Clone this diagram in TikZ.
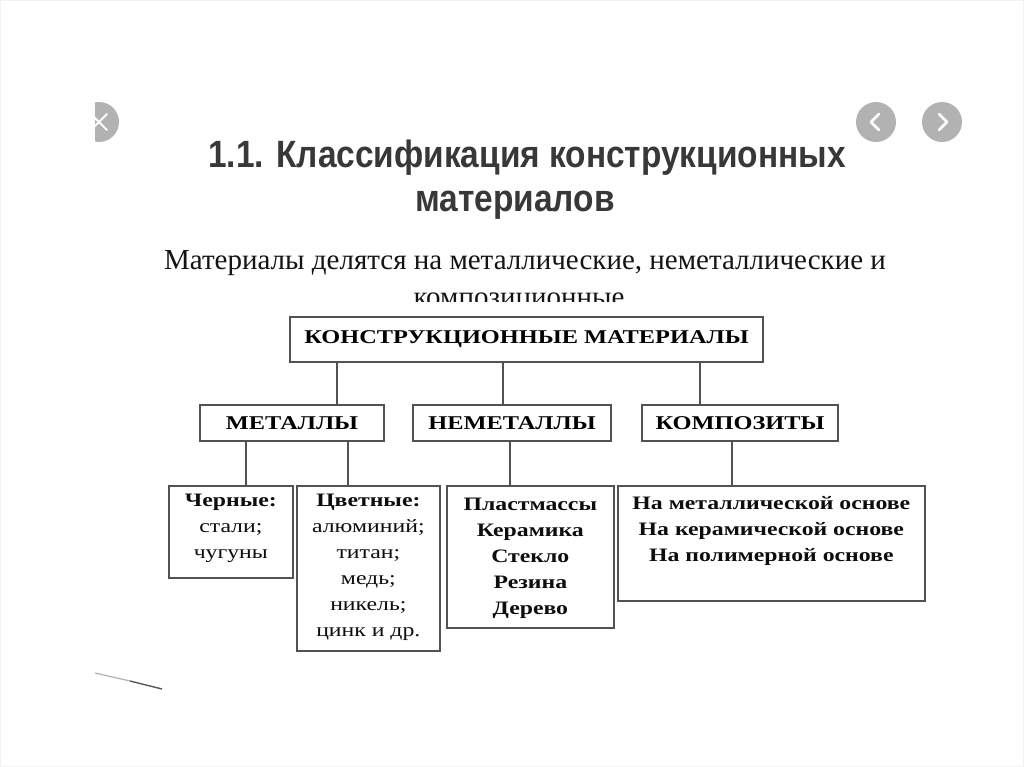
\documentclass[tikz,border=0pt]{standalone}
\usepackage{fontspec}
\setmainfont{Liberation Serif}
\newfontfamily\titlefont[FakeStretch=0.88]{Liberation Sans}
\newfontfamily\leadfont{Liberation Serif}
\newfontfamily\chartfont[FakeStretch=1.25]{Liberation Serif}
\usetikzlibrary{calc, positioning}

% text block of a lower box: [first baseline], width, height, lines
\newcommand{\cell}[4][21pt]{\parbox[t][#3][t]{#2}{\centering\rule{0pt}{#1}#4}}

\tikzset{
  unit/.style={draw=black!68, line width=1.7pt, fill=white, inner sep=0pt,
    text=black!95, font=\chartfont\fontsize{19}{26}\selectfont},
  head/.style={unit, text=black, font=\chartfont\bfseries\fontsize{19.5}{26}\selectfont},
  link/.style={draw=black!68, line width=1.7pt},
  navbtn/.style={circle, fill=black!30, minimum size=40pt, inner sep=0pt},
  navmark/.style={white, line width=2.6pt, line cap=round, line join=round}
}

\begin{document}
\begin{tikzpicture}[x=1pt, y=-1pt]
    \fill[white] (0,0) rectangle (1024,767);
    \useasboundingbox (0,0) rectangle (1024,767);
    \draw[black!5] (0.5,0.5) rectangle (1023.5,766.5);

    % slide buttons
    \begin{scope}
        \clip (95,0) rectangle (1024,767);
        \node[navbtn] (close) at (99,122) {};
        \draw[navmark, line width=1.8pt] ($(close)+(-8,-8)$) -- ($(close)+(8,8)$);
        \draw[navmark, line width=1.8pt] ($(close)+(-8,8)$) -- ($(close)+(8,-8)$);
    \end{scope}
    \node[navbtn] (prev) at (876,122) {};
    \draw[navmark] ($(prev)+(3,-8)$) -- ($(prev)+(-5,0)$) -- ($(prev)+(3,8)$);
    \node[navbtn] (next) at (942,122) {};
    \draw[navmark] ($(next)+(-3,-8)$) -- ($(next)+(5,0)$) -- ($(next)+(-3,8)$);

    % heading
    \node[font=\titlefont\bfseries\fontsize{38}{46}\selectfont, text=black!78] (title1) at (527,158) {1.1. Классификация конструкционных};
    \node[font=\titlefont\bfseries\fontsize{38}{46}\selectfont, text=black!78] (title2) at (515,205) {материалов};

    \node[font=\leadfont\fontsize{29}{36}\selectfont, text=black!92] (lead1) at (525,263) {Материалы делятся на металлические, неметаллические и};
    \begin{scope}
        \clip (0,0) rectangle (1024,301);
        \node[font=\leadfont\fontsize{29}{36}\selectfont, text=black!92] (lead2) at (519,302) {композиционные};
    \end{scope}

    % chart
    \node[head, minimum width=473pt, minimum height=45pt] (root) at (526.5,339.5) {КОНСТРУКЦИОННЫЕ МАТЕРИАЛЫ};

    \node[head, minimum width=184pt, minimum height=36pt] (met) at (292,423) {МЕТАЛЛЫ};
    \node[head, minimum width=198pt, minimum height=36pt] (nonmet) at (512,423) {НЕМЕТАЛЛЫ};
    \node[head, minimum width=196pt, minimum height=36pt] (comp) at (740,423) {КОМПОЗИТЫ};

    \node[unit, anchor=north west] (ferrous) at (168,485) {\cell{124pt}{92pt}{\textbf{Черные:}\\стали;\\чугуны}};
    \node[unit, anchor=north west] (nonferrous) at (296,485) {\cell{143pt}{165pt}{\textbf{Цветные:}\\алюминий;\\титан;\\медь;\\никель;\\цинк и др.}};
    \node[unit, anchor=north west] (nonmetlist) at (446,485) {\cell[25pt]{167pt}{142pt}{\bfseries Пластмассы\\Керамика\\Стекло\\Резина\\Дерево}};
    \node[unit, anchor=north west] (complist) at (617,485) {\cell[24pt]{307pt}{115pt}{\bfseries На металлической основе\\На керамической основе\\На полимерной основе}};

    \coordinate (xa) at (337,0);
    \coordinate (xb) at (503,0);
    \coordinate (xc) at (700,0);
    \coordinate (xd) at (246,0);
    \coordinate (xe) at (348,0);
    \coordinate (xf) at (510,0);
    \coordinate (xg) at (732,0);

    \draw[link] (root.south -| xa) -- (met.north -| xa);
    \draw[link] (root.south -| xb) -- (nonmet.north -| xb);
    \draw[link] (root.south -| xc) -- (comp.north -| xc);
    \draw[link] (met.south -| xd) -- (ferrous.north -| xd);
    \draw[link] (met.south -| xe) -- (nonferrous.north -| xe);
    \draw[link] (nonmet.south -| xf) -- (nonmetlist.north -| xf);
    \draw[link] (comp.south -| xg) -- (complist.north -| xg);

    % scan trace at the lower left
    \draw[black!30, line width=1.2pt] (95,673) -- (130,681);
    \draw[black!65, line width=1.4pt] (130,681) -- (162,689);
\end{tikzpicture}
\end{document}
